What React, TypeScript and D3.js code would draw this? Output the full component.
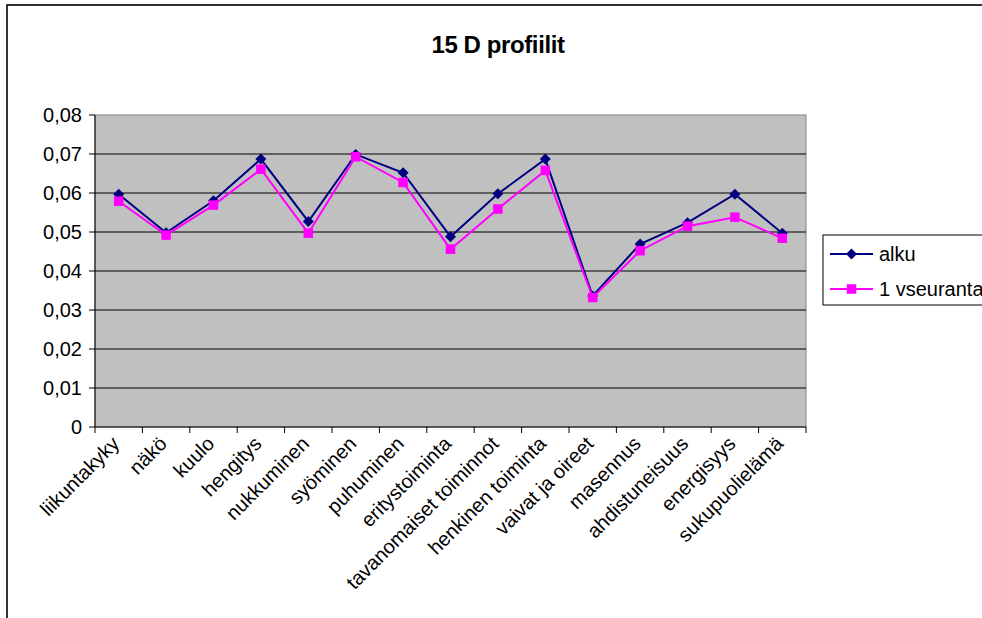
import React from "react";
import * as d3 from "d3";

const categories = [
  "liikuntakyky", "näkö", "kuulo", "hengitys", "nukkuminen", "syöminen", "puhuminen",
  "eritystoiminta", "tavanomaiset toiminnot", "henkinen toiminta", "vaivat ja oireet",
  "masennus", "ahdistuneisuus", "energisyys", "sukupuolielämä",
];
const alku = [0.0597, 0.0498, 0.058, 0.0687, 0.0527, 0.0699, 0.0652, 0.0488, 0.0598, 0.0687, 0.0336, 0.0469, 0.0524, 0.0597, 0.0497];
const seuranta = [0.0579, 0.0492, 0.0569, 0.0661, 0.0497, 0.0693, 0.0627, 0.0456, 0.0559, 0.0658, 0.0332, 0.0452, 0.0515, 0.0538, 0.0484];
const yTicks = [0, 0.01, 0.02, 0.03, 0.04, 0.05, 0.06, 0.07, 0.08];
const yTickLabels = ["0", "0,01", "0,02", "0,03", "0,04", "0,05", "0,06", "0,07", "0,08"];
const seriesNames = ["alku", "1 vseuranta"];

const W = 982, H = 618;
const PL = 95, PR = 806, PT = 115, PB = 427;
const FONT = "'Liberation Sans', Arial, sans-serif";

export default function App() {
  const x = d3.scaleBand<string>().domain(categories).range([PL, PR]);
  const y = d3.scaleLinear().domain([0, 0.08]).range([PB, PT]);
  const cx = (c: string) => (x(c) as number) + x.bandwidth() / 2;
  const line = d3.line<number>().x((_, i) => cx(categories[i])).y((d) => y(d));
  const diamond = (px: number, py: number, r = 5.5) =>
    `M${px},${py - r}L${px + r},${py}L${px},${py + r}L${px - r},${py}Z`;
  const sq = 9.5;
  const edges = [...categories.map((c) => x(c) as number), PR];

  return (
    <div style={{ position: "fixed", left: 0, top: 0 }}>
      <svg width={W} height={H} style={{ display: "block", background: "#fff" }} fontFamily={FONT}>
        <rect x={7} y={5} width={W + 20} height={H + 20} fill="#fff" stroke="#000" strokeWidth={1.6} />
        <text x={498} y={53} textAnchor="middle" fontWeight="bold" fontSize={24} letterSpacing={-0.4}>15 D profiilit</text>

        <rect x={PL} y={PT} width={PR - PL} height={PB - PT} fill="#C0C0C0" stroke="#808080" strokeWidth={1} />
        {yTicks.slice(1, -1).map((t) => (
          <line key={t} x1={PL} x2={PR} y1={y(t)} y2={y(t)} stroke="#000" strokeWidth={1} />
        ))}
        <line x1={PL} x2={PL} y1={PT} y2={PB} stroke="#000" strokeWidth={1} />
        <line x1={PL} x2={PR} y1={PB} y2={PB} stroke="#000" strokeWidth={1} />
        {yTicks.map((t, i) => (
          <g key={t}>
            <line x1={PL - 6} x2={PL} y1={y(t)} y2={y(t)} stroke="#000" />
            <text x={82} y={y(t) + 6.5} textAnchor="end" fontSize={20}>{yTickLabels[i]}</text>
          </g>
        ))}
        {edges.map((e, i) => (
          <line key={i} x1={e} x2={e} y1={PB} y2={PB + 6} stroke="#000" />
        ))}
        {categories.map((c) => (
          <text key={c} transform={`translate(${cx(c) + 2},${PB + 18}) rotate(-45)`} textAnchor="end" fontSize={20}>{c}</text>
        ))}

        <path d={line(alku) as string} fill="none" stroke="#000080" strokeWidth={2} />
        {alku.map((v, i) => (
          <path key={i} d={diamond(cx(categories[i]), y(v))} fill="#000080" />
        ))}
        <path d={line(seuranta) as string} fill="none" stroke="#FF00FF" strokeWidth={2} />
        {seuranta.map((v, i) => (
          <rect key={i} x={cx(categories[i]) - sq / 2} y={y(v) - sq / 2} width={sq} height={sq} fill="#FF00FF" />
        ))}

        <rect x={823} y={235} width={200} height={70} fill="#fff" stroke="#000" strokeWidth={1} />
        <line x1={830} x2={873} y1={254} y2={254} stroke="#000080" strokeWidth={2} />
        <path d={diamond(851.5, 254)} fill="#000080" />
        <text x={879} y={261} fontSize={20}>{seriesNames[0]}</text>
        <line x1={830} x2={873} y1={289} y2={289} stroke="#FF00FF" strokeWidth={2} />
        <rect x={851.5 - sq / 2} y={289 - sq / 2} width={sq} height={sq} fill="#FF00FF" />
        <text x={879} y={296} fontSize={20}>{seriesNames[1]}</text>
      </svg>
    </div>
  );
}
